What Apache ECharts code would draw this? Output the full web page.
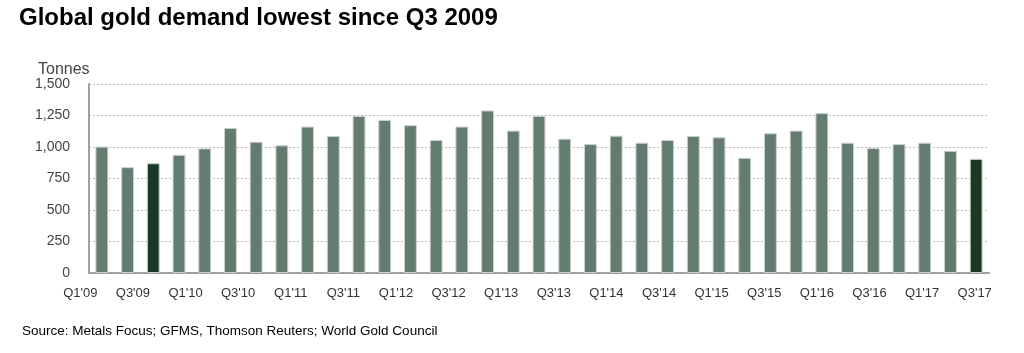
<!DOCTYPE html>
<html>
<head>
<meta charset="utf-8">
<script src="https://cdn.jsdelivr.net/npm/echarts@6/dist/echarts.min.js"></script>
<style>
  html, body { margin: 0; padding: 0; background: #fff; }
  #chart { width: 1024px; height: 353px; }
</style>
</head>
<body>
<div id="chart"></div>
<script>
// quarters Q1'09 .. Q3'17
const quarters = [];
for (let y = 9; y <= 17; y++) {
  for (let q = 1; q <= 4; q++) {
    if (y === 17 && q > 3) break;
    quarters.push("Q" + q + "'" + String(y).padStart(2, "0"));
  }
}

const demand = [
  1003, 840, 871, 938, 989, 1151, 1042, 1013,
  1162, 1087, 1247, 1215, 1173, 1055, 1162, 1290,
  1130, 1247, 1066, 1023, 1090, 1034, 1055, 1087,
  1077, 914, 1109, 1130, 1269, 1034, 991, 1023,
  1034, 970, 906
];

// highlighted quarters
const highlighted = ["Q3'09", "Q3'17"];

// every other quarter gets a label
const xLabels = quarters.filter((q, i) => i % 2 === 0);

const yTicks = [0, 250, 500, 750, 1000, 1250, 1500];

const chart = echarts.init(document.getElementById("chart"));

const option = {
  animation: false,
  textStyle: { fontFamily: "Liberation Sans, Arial, sans-serif" },
  title: [
    {
      text: "Global gold demand lowest since Q3 2009",
      left: 14,
      top: 1,
      textStyle: { fontSize: 24, fontWeight: "bold", color: "#000" },
    },
    {
      text: "Tonnes",
      left: 33,
      top: 57,
      textStyle: { fontSize: 16, fontWeight: "normal", color: "#444" },
    },
    {
      text: "Source: Metals Focus; GFMS, Thomson Reuters; World Gold Council",
      left: 17,
      top: 319,
      textStyle: { fontSize: 13.5, fontWeight: "normal", color: "#000" },
    },
  ],
  grid: [
    { left: 89, right: 35, top: 84, bottom: 80 },
    // label strip, spaced a little wider than the bars
    { left: 54, right: 23, top: 84, bottom: 80 },
  ],
  xAxis: [
    {
      type: "category",
      gridIndex: 0,
      data: quarters,
      axisLine: { lineStyle: { color: "#a0a0a0", width: 2 } },
      axisTick: { show: false },
      axisLabel: { show: false },
    },
    {
      type: "category",
      gridIndex: 1,
      data: xLabels,
      axisLine: { show: false },
      axisTick: { show: false },
      axisLabel: {
        interval: 0,
        color: "#333",
        fontSize: 13,
        margin: 14,
      },
    },
  ],
  yAxis: [
    {
      type: "value",
      gridIndex: 0,
      min: yTicks[0],
      max: yTicks[yTicks.length - 1],
      interval: 250,
      axisLine: { show: true, lineStyle: { color: "#a0a0a0", width: 2 } },
      axisTick: { show: false },
      axisLabel: {
        color: "#444",
        fontSize: 14,
        margin: 19,
        formatter: (v) => v.toLocaleString("en-US"),
      },
      splitLine: {
        lineStyle: { color: "#bdbdbd", type: [2, 2], width: 1 },
      },
    },
    {
      type: "value",
      gridIndex: 1,
      show: false,
    },
  ],
  series: [
    {
      type: "bar",
      xAxisIndex: 0,
      yAxisIndex: 0,
      barWidth: "50%",
      data: demand.map((v, i) => ({
        value: v,
        itemStyle: {
          color: highlighted.includes(quarters[i]) ? "#1a3826" : "#637c6f",
        },
      })),
      itemStyle: {
        borderColor: "#c9d2cd",
        borderWidth: 1,
      },
    },
  ],
};

chart.setOption(option);
</script>
</body>
</html>
